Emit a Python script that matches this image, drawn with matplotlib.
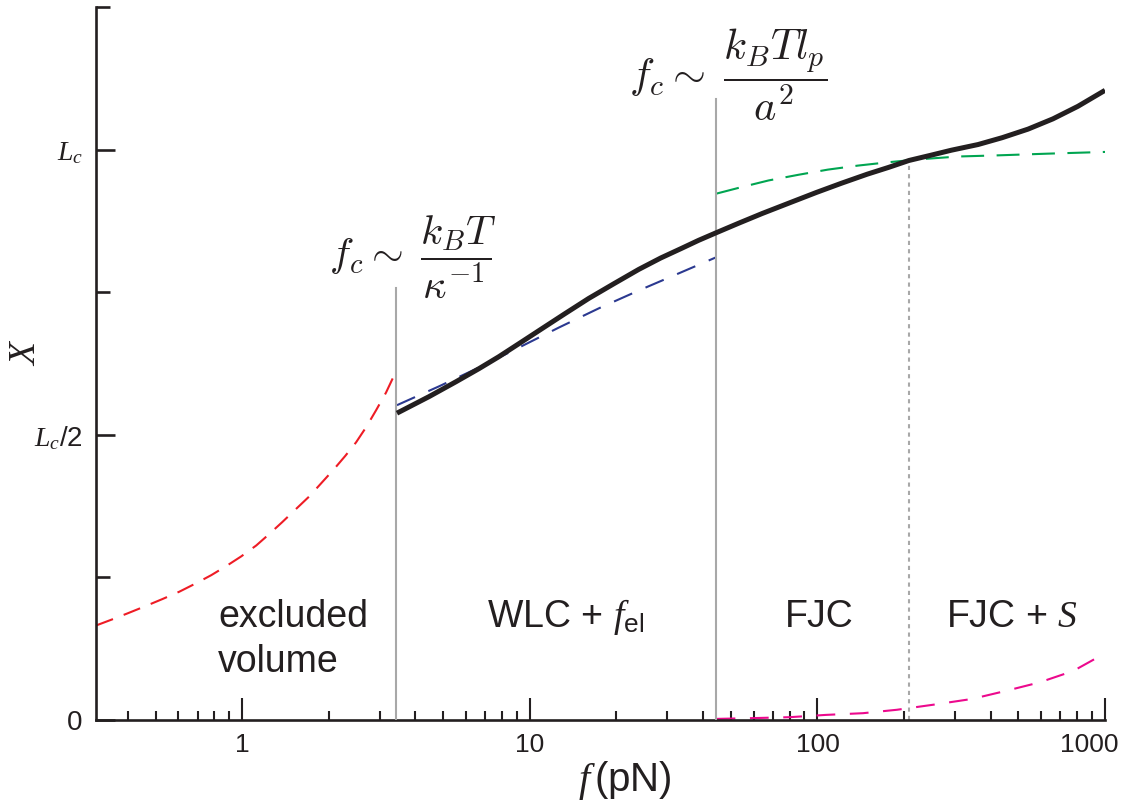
import matplotlib
matplotlib.use("Agg")
import matplotlib.pyplot as plt
from matplotlib.ticker import LogLocator, FixedLocator, NullFormatter, FixedFormatter

plt.rcParams['font.family'] = ['Liberation Sans', 'DejaVu Sans']
plt.rcParams['mathtext.fontset'] = 'custom'
plt.rcParams['mathtext.rm'] = 'Liberation Sans'
plt.rcParams['mathtext.sf'] = 'Liberation Sans'
plt.rcParams['mathtext.it'] = 'Liberation Serif:italic'
plt.rcParams['mathtext.bf'] = 'Liberation Sans:bold'

# Excluded-volume regime (red)
f_ev = [0.311, 0.351, 0.399, 0.457, 0.527, 0.604, 0.692, 0.780, 0.880, 0.992, 1.118, 1.24,
        1.377, 1.53, 1.709, 1.88, 2.085, 2.28, 2.488, 2.70, 2.918, 3.16, 3.40]
x_ev = [0.166, 0.176, 0.187, 0.199, 0.212, 0.225, 0.240, 0.254, 0.270, 0.287, 0.306, 0.326,
        0.347, 0.369, 0.392, 0.415, 0.440, 0.463, 0.487, 0.514, 0.543, 0.574, 0.608]

# Full extension curve (black)
f_full = [3.45, 4.46, 5.53, 6.65, 7.80, 9.30, 11.0, 13.2, 16.0, 19.6, 23.9, 28.5, 33.7, 38.6,
          44.3, 53.2, 64.2, 79.3, 99.2, 121, 149, 177, 208, 247, 292, 362, 439, 540, 659,
          805, 1000]
x_full = [0.538, 0.567, 0.593, 0.616, 0.637, 0.662, 0.686, 0.712, 0.739, 0.765, 0.790, 0.810,
          0.827, 0.841, 0.854, 0.871, 0.888, 0.906, 0.925, 0.941, 0.957, 0.969, 0.981, 0.990,
          0.999, 1.009, 1.021, 1.036, 1.054, 1.076, 1.104]

# WLC + electrostatics (blue)
f_wlc = [3.45, 4.83, 6.65, 9.16, 12.6, 17.4, 23.9, 32.9, 44.3]
x_wlc = [0.552, 0.585, 0.618, 0.653, 0.688, 0.722, 0.753, 0.783, 0.811]

# Freely jointed chain (green)
f_fjc = [44.6, 53.2, 67.6, 86.0, 108.7, 138, 177, 225, 309, 424, 634, 1000]
x_fjc = [0.923, 0.933, 0.946, 0.956, 0.965, 0.972, 0.978, 0.983, 0.988, 0.990, 0.993, 0.996]

# Stretch-modulus contribution (magenta)
f_s = [44.6, 61.1, 80.0, 107, 144, 189, 254, 345, 451, 592, 775, 1000]
x_s = [0.002, 0.0035, 0.005, 0.009, 0.012, 0.018, 0.027, 0.037, 0.051, 0.066, 0.086, 0.117]

# Crossover forces and the heights of their marker lines
f_cross = [3.43, 44.3]
x_cross_top = [0.758, 1.088]
f_stretch = 208
x_stretch_top = 0.981

x_ticks = [1, 10, 100, 1000]
x_ticklabels = ['1', '10', '100', '1000']
y_ticks = [0, 0.5, 1.0]
y_ticklabels = ['0', r'$L_c$/2', r'$L_c$']
y_minor = [0.25, 0.75, 1.25]

ink = '#231F20'
gray = '#A8A8A8'

fig = plt.figure(figsize=(11.27, 8.02), dpi=100)
ax = fig.add_axes([0.0852, 0.1022, 0.8953, 0.8890])
ax.set_xscale('log')
ax.set_xlim(0.31, 1000)
ax.set_ylim(0, 1.25)

ax.plot(f_ev, x_ev, color='#EE1C25', lw=1.5, dashes=(8.5, 5.5), zorder=2)
ax.plot(f_wlc, x_wlc, color='#2B3990', lw=1.5, dashes=(9.5, 7), zorder=2)
ax.plot(f_fjc, x_fjc, color='#00A551', lw=1.5, dashes=(11, 6), zorder=2)
ax.plot(f_s, x_s, color='#EC098D', lw=1.5, dashes=(9, 7), zorder=2)

for fc, top in zip(f_cross, x_cross_top):
    ax.plot([fc, fc], [0, top], color=gray, lw=1.5, zorder=3)
ax.plot([f_stretch, f_stretch], [0, x_stretch_top], color=gray, lw=1.5,
        dashes=(2, 2), zorder=1)

ax.plot(f_full, x_full, color=ink, lw=3.6, solid_capstyle='butt',
        solid_joinstyle='round', zorder=4)

# axes styling
for side in ['top', 'right']:
    ax.spines[side].set_visible(False)
for side in ['left', 'bottom']:
    ax.spines[side].set_linewidth(1.9)
    ax.spines[side].set_color(ink)

ax.xaxis.set_major_locator(FixedLocator(x_ticks))
# last decade label is placed by hand so it stays inside the figure
ax.xaxis.set_major_formatter(FixedFormatter(x_ticklabels[:-1] + ['']))
ax.xaxis.set_minor_locator(LogLocator(base=10, subs=[2, 3, 4, 5, 6, 7, 8, 9]))
ax.xaxis.set_minor_formatter(NullFormatter())
ax.yaxis.set_major_locator(FixedLocator(y_ticks))
ax.yaxis.set_major_formatter(FixedFormatter(y_ticklabels))
ax.yaxis.set_minor_locator(FixedLocator(y_minor))

ax.tick_params(axis='x', which='major', direction='in', length=15.5, width=1.5,
               color=ink, labelsize=19, pad=9, labelcolor=ink)
ax.tick_params(axis='x', which='minor', direction='in', length=6.5, width=1.5, color=ink)
ax.tick_params(axis='y', which='major', direction='in', length=13.5, width=1.9,
               color=ink, labelsize=20, pad=9.5, labelcolor=ink)
ax.tick_params(axis='y', which='minor', direction='in', length=10, width=1.9, color=ink)

ax.annotate(x_ticklabels[-1], xy=(x_ticks[-1], 0), xycoords=('data', 'axes fraction'),
            xytext=(-11, -9), textcoords='offset points', ha='center', va='top',
            fontsize=19, color=ink)

ax.set_xlabel(r'$f\,$(pN)', fontsize=29, color=ink)
ax.xaxis.set_label_coords(0.524, -0.055)
ax.set_ylabel(r'$X$', fontsize=27, color=ink)
ax.yaxis.set_label_coords(-0.053, 0.516)

# regime labels
lab = dict(fontsize=27, color=ink, va='baseline')
ax.text(0.825, 0.163, 'excluded', ha='left', **lab)
ax.text(0.825, 0.084, 'volume', ha='left', **lab)
ax.text(7.09, 0.163, r'WLC + $f_{\mathrm{el}}$', ha='left', **lab)
ax.text(101.6, 0.163, 'FJC', ha='center', **lab)
ax.text(280, 0.163, r'FJC + $S$', ha='left', **lab)

# crossover force scalings
ax.text(2.0, 0.812, r'$f_c \sim \;\dfrac{k_BT}{\kappa^{-1}}$', fontsize=29.5, color=ink,
        ha='left', va='center', math_fontfamily='cm')
ax.text(22.2, 1.131, r'$f_c \sim \;\dfrac{k_BTl_p}{a^2}$', fontsize=30.5, color=ink,
        ha='left', va='center', math_fontfamily='cm')

fig.savefig('out.png', dpi=100)
